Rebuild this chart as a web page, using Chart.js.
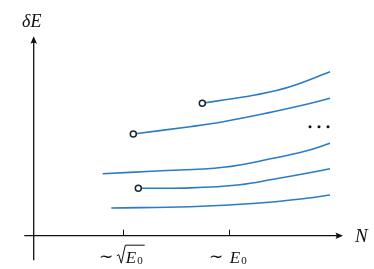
<!DOCTYPE html>
<html>
<head>
<meta charset="utf-8">
<script src="https://cdn.jsdelivr.net/npm/chart.js@4"></script>
<style>
html,body{margin:0;padding:0;background:#fff;}
#wrap{width:374px;height:269px;}
</style>
</head>
<body>
<div id="wrap"><canvas id="c" width="374" height="269"></canvas></div>
<script>
// ---- data (N in arbitrary units, deltaE in arbitrary units) ----
const branch1X = [1.686, 1.896, 2.23, 2.563, 2.963];
const branch1Y = [1.324, 1.357, 1.41, 1.49, 1.64];
const branch2X = [0.996, 1.563, 1.896, 2.396, 2.73, 2.963];
const branch2Y = [1.017, 1.09, 1.14, 1.24, 1.314, 1.374];
const branch3X = [0.69, 1.23, 1.896, 2.396, 2.73, 2.963];
const branch3Y = [0.62, 0.647, 0.684, 0.774, 0.85, 0.924];
const branch4X = [1.046, 1.563, 2.063, 2.396, 2.73, 2.963];
const branch4Y = [0.474, 0.478, 0.51, 0.564, 0.624, 0.67];
const branch5X = [0.776, 1.563, 2.23, 2.73, 2.963];
const branch5Y = [0.277, 0.29, 0.324, 0.374, 0.407];
const branchHasStart = [true, true, false, true, false];
const ellipsisX = [2.763, 2.853, 2.943];
const ellipsisY = [1.09, 1.09, 1.09];
const tickValues = [0.89, 1.953];
const tickLabels = ['∼ √E₀', '∼ E₀'];
const xAxisLabel = 'N';
const yAxisLabel = 'δE';

// full-canvas value ranges
const X_RANGE = [-0.337, 3.403];
const Y_RANGE = [-0.333, 2.357];

const BLUE = '#2b7cc7';
const DARK = '#1c2630';

function pts(xs, ys){ return xs.map((x,i)=>({x:x, y:ys[i]})); }
const branches = [[branch1X,branch1Y],[branch2X,branch2Y],[branch3X,branch3Y],[branch4X,branch4Y],[branch5X,branch5Y]];
const datasets = branches.map((b,i)=>({
  data: pts(b[0], b[1]),
  showLine: true,
  borderColor: BLUE,
  borderWidth: 1.6,
  tension: 0.4,
  pointRadius: b[0].map((_,j)=> (j===0 && branchHasStart[i]) ? 3 : 0),
  pointHoverRadius: 0,
  pointBackgroundColor: '#ffffff',
  pointBorderColor: DARK,
  pointBorderWidth: 1.5,
  fill: false
}));
datasets.push({
  data: pts(ellipsisX, ellipsisY),
  showLine: false,
  pointRadius: 1.5,
  pointHoverRadius: 0,
  pointBackgroundColor: '#111',
  pointBorderWidth: 0
});

function arrowHead(ctx, x, y, dir){
  ctx.save();
  ctx.translate(x, y);
  if (dir === 'up') ctx.rotate(-Math.PI/2);
  ctx.beginPath();
  ctx.moveTo(0, 0);
  ctx.lineTo(-7.5, -3.3);
  ctx.quadraticCurveTo(-5.5, 0, -7.5, 3.3);
  ctx.closePath();
  ctx.fillStyle = '#111';
  ctx.fill();
  ctx.restore();
}

function drawMathLabel(ctx, cx, base, withSqrt){
  const fT = '17px "Liberation Serif"';
  const fE = 'italic 17px "Liberation Serif"';
  const fS = '11px "Liberation Serif"';
  ctx.font = fT; const wt = ctx.measureText('∼').width;
  ctx.font = fE; const wE = ctx.measureText('E').width;
  ctx.font = fS; const wS = ctx.measureText('0').width;
  const gap = withSqrt ? 4.5 : 6.5;
  const rad = withSqrt ? 8 : 0;
  const total = wt + gap + rad + wE + 1 + wS + (withSqrt ? 2 : 0);
  let x = cx - total/2;
  ctx.fillStyle = '#111';
  ctx.textBaseline = 'alphabetic';
  ctx.textAlign = 'left';
  ctx.font = fT; ctx.fillText('∼', x, base - 1);
  x += wt + gap;
  if (withSqrt){
    const top = base - 17.5;
    ctx.beginPath();
    ctx.lineWidth = 1;
    ctx.strokeStyle = '#111';
    ctx.moveTo(x - 1, base - 7);
    ctx.lineTo(x + 1, base - 8);
    ctx.lineTo(x + 3.5, base + 0.5);
    ctx.lineTo(x + 7.5, top);
    ctx.lineTo(x + rad + wE + 1 + wS + 2, top);
    ctx.stroke();
    x += rad;
  }
  ctx.font = fE; ctx.fillText('E', x, base);
  x += wE + 1;
  ctx.font = fS; ctx.fillText('0', x, base + 1);
}

const axesPlugin = {
  id: 'arrowAxes',
  beforeDatasetsDraw(chart){
    const ctx = chart.ctx;
    const xs = chart.scales.x, ys = chart.scales.y;
    const x0 = xs.getPixelForValue(0), y0 = ys.getPixelForValue(0);
    const xL = xs.getPixelForValue(-0.094), xR = xs.getPixelForValue(3.093);
    const yB = ys.getPixelForValue(-0.245), yT = ys.getPixelForValue(1.995);
    ctx.save();
    ctx.strokeStyle = '#111';
    ctx.lineWidth = 1.3;
    ctx.beginPath();
    ctx.moveTo(xL, y0); ctx.lineTo(xR - 4, y0);
    ctx.moveTo(x0, yB); ctx.lineTo(x0, yT + 4);
    ctx.stroke();
    arrowHead(ctx, xR, y0, 'right');
    arrowHead(ctx, x0, yT, 'up');
    ctx.lineWidth = 1;
    tickValues.forEach((v, i)=>{
      const px = Math.round(xs.getPixelForValue(v)) + 0.5;
      ctx.beginPath(); ctx.moveTo(px, y0); ctx.lineTo(px, y0 - 6); ctx.stroke();
      drawMathLabel(ctx, px - 1.5, y0 + 27, tickLabels[i].indexOf('√') >= 0);
    });
    ctx.fillStyle = '#111';
    ctx.textBaseline = 'alphabetic';
    ctx.textAlign = 'left';
    ctx.font = 'italic 19px "Liberation Serif"';
    ctx.fillText(xAxisLabel, xR + 12, y0 + 6);
    ctx.font = 'italic 18px "Liberation Serif"';
    ctx.textAlign = 'center';
    ctx.fillText(yAxisLabel, x0 - 2, yT - 9);
    ctx.restore();
  }
};

const chart = new Chart(document.getElementById('c'), {
  type: 'scatter',
  data: { datasets: datasets },
  options: {
    responsive: false,
    animation: false,
    devicePixelRatio: 1,
    layout: { padding: 0 },
    plugins: { legend: { display: false }, tooltip: { enabled: false } },
    scales: {
      x: { type: 'linear', display: false, min: X_RANGE[0], max: X_RANGE[1] },
      y: { type: 'linear', display: false, min: Y_RANGE[0], max: Y_RANGE[1] }
    }
  },
  plugins: [axesPlugin]
});

// Map value ranges onto the whole canvas, whatever inset the layout applies.
(function fitToCanvas(){
  const W = chart.width, H = chart.height, a = chart.chartArea;
  const xr = X_RANGE[1] - X_RANGE[0], yr = Y_RANGE[1] - Y_RANGE[0];
  chart.options.scales.x.min = X_RANGE[0] + a.left / W * xr;
  chart.options.scales.x.max = X_RANGE[0] + a.right / W * xr;
  chart.options.scales.y.max = Y_RANGE[1] - a.top / H * yr;
  chart.options.scales.y.min = Y_RANGE[1] - a.bottom / H * yr;
  chart.update();
})();
</script>
</body>
</html>
